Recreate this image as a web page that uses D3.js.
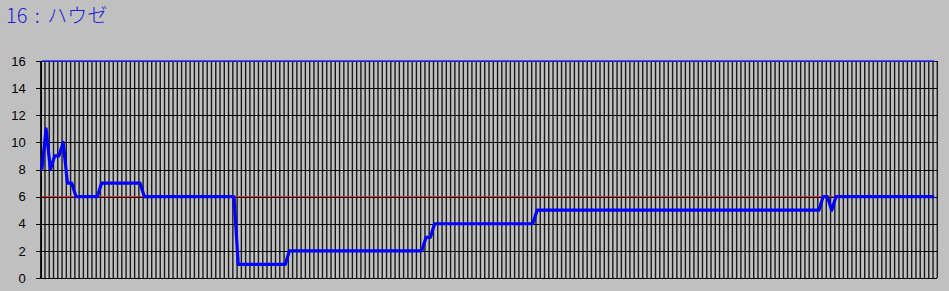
<!DOCTYPE html>
<html>
<head>
<meta charset="utf-8">
<script src="https://cdn.jsdelivr.net/npm/d3@7"></script>
<style>
  body { margin: 0; background: #c0c0c0; }
  svg { display: block; }
</style>
</head>
<body>
<svg id="chart" width="949" height="291"></svg>
<script>
// chart title
const title = "16 : ハウゼ";

// daily values of the series (one per category)
const values = [
  8, 11, 8, 9, 9, 10, 7, 7, 6, 6,
  6, 6, 6, 6, 7, 7, 7, 7, 7, 7,
  7, 7, 7, 7, 6, 6, 6, 6, 6, 6,
  6, 6, 6, 6, 6, 6, 6, 6, 6, 6,
  6, 6, 6, 6, 6, 6, 1, 1, 1, 1,
  1, 1, 1, 1, 1, 1, 1, 1, 2, 2,
  2, 2, 2, 2, 2, 2, 2, 2, 2, 2,
  2, 2, 2, 2, 2, 2, 2, 2, 2, 2,
  2, 2, 2, 2, 2, 2, 2, 2, 2, 2,
  3, 3, 4, 4, 4, 4, 4, 4, 4, 4,
  4, 4, 4, 4, 4, 4, 4, 4, 4, 4,
  4, 4, 4, 4, 4, 4, 5, 5, 5, 5,
  5, 5, 5, 5, 5, 5, 5, 5, 5, 5,
  5, 5, 5, 5, 5, 5, 5, 5, 5, 5,
  5, 5, 5, 5, 5, 5, 5, 5, 5, 5,
  5, 5, 5, 5, 5, 5, 5, 5, 5, 5,
  5, 5, 5, 5, 5, 5, 5, 5, 5, 5,
  5, 5, 5, 5, 5, 5, 5, 5, 5, 5,
  5, 5, 5, 6, 6, 5, 6, 6, 6, 6,
  6, 6, 6, 6, 6, 6, 6, 6, 6, 6,
  6, 6, 6, 6, 6, 6, 6, 6, 6, 6
];
const categories = values.map((v, i) => i);

// reference levels drawn across the chart
const upperLevel = 16;
const middleLevel = 6;

// y axis ticks
const yTicks = [0, 2, 4, 6, 8, 10, 12, 14, 16];

const svg = d3.select("#chart");

const plotLeft = 40.7, plotRight = 937.3, plotTop = 61, plotBottom = 278;

const x = d3.scaleBand().domain(categories).range([plotLeft, plotRight]);
const y = d3.scaleLinear().domain([0, 16]).range([plotBottom, plotTop]);
// points sit in the middle of each category (nudged a pixel like the original)
const cx = c => x(c) + x.bandwidth() / 2 - 1;

// background
svg.append("rect")
  .attr("width", 949).attr("height", 291)
  .attr("fill", "#c0c0c0");

// title
svg.append("text")
  .attr("x", 6).attr("y", 23)
  .attr("fill", "#2020d8")
  .style("font-family", "'Noto Sans CJK JP', sans-serif")
  .style("font-weight", 300)
  .style("font-size", "20px")
  .style("word-spacing", "3px")
  .text(title);

// vertical gridlines at category boundaries
const edges = categories.map(c => x(c)).concat([plotRight]);
svg.append("g")
  .selectAll("line")
  .data(edges)
  .enter()
  .append("line")
  .attr("x1", d => d).attr("x2", d => d)
  .attr("y1", plotTop).attr("y2", plotBottom)
  .attr("stroke", "#1a1a1a")
  .attr("stroke-width", 1.4);

// horizontal gridlines
const grid = svg.append("g")
  .attr("transform", `translate(${plotLeft},0)`)
  .call(d3.axisLeft(y).tickValues(yTicks).tickSize(-(plotRight - plotLeft)).tickFormat(""));
grid.select(".domain").remove();
grid.selectAll("line")
  .attr("stroke", "#000")
  .attr("shape-rendering", "crispEdges");

// y axis
const yAxis = svg.append("g")
  .attr("transform", `translate(${plotLeft},0)`)
  .call(d3.axisLeft(y).tickValues(yTicks).tickSize(5).tickPadding(10).tickFormat(d3.format("d")));
yAxis.selectAll("line, path")
  .attr("stroke", "#000")
  .attr("shape-rendering", "crispEdges");
yAxis.selectAll("text")
  .attr("fill", "#000")
  .style("font-family", "'Liberation Sans', Arial, sans-serif")
  .style("font-size", "13px");

// reference lines
const first = categories[0], last = categories[categories.length - 1];
svg.append("line")
  .attr("x1", cx(first)).attr("x2", cx(last))
  .attr("y1", y(middleLevel)).attr("y2", y(middleLevel))
  .attr("stroke", "#e02828")
  .attr("stroke-width", 1);
svg.append("line")
  .attr("x1", cx(first)).attr("x2", cx(last))
  .attr("y1", y(upperLevel)).attr("y2", y(upperLevel))
  .attr("stroke", "#2a2aff")
  .attr("stroke-width", 1.5);

// main series
const line = d3.line()
  .x((d, i) => cx(categories[i]))
  .y(d => y(d));

svg.append("path")
  .datum(values)
  .attr("fill", "none")
  .attr("stroke", "#0000ff")
  .attr("stroke-width", 3.2)
  .attr("stroke-linejoin", "round")
  .attr("d", line);
</script>
</body>
</html>
